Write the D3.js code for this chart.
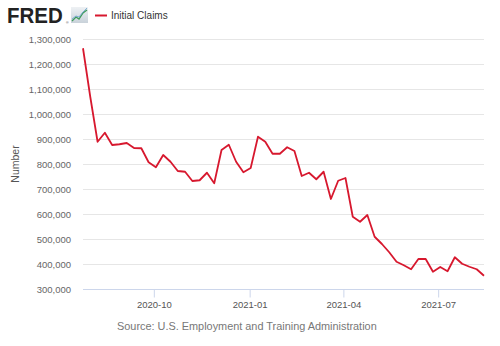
<!DOCTYPE html>
<html>
<head>
<meta charset="utf-8">
<script src="https://cdn.jsdelivr.net/npm/d3@7"></script>
<style>
  html, body { margin: 0; padding: 0; background: #fff; }
  svg { display: block; font-family: "Liberation Sans", Arial, sans-serif; }
</style>
</head>
<body>
<svg id="chart" width="500" height="346"></svg>
<script>
// Weekly initial claims, week ending dates starting 2020-07-25
const startDate = "2020-07-25";
const claims = [
  1263000, 1068000, 889000, 925000, 876000, 879000, 884000, 864000,
  863000, 807000, 787000, 836000, 809000, 772000, 769000, 732000,
  735000, 765000, 723000, 856000, 877000, 809000, 767000, 784000,
  909000, 889000, 841000, 841000, 867000, 852000, 752000, 765000,
  739000, 769000, 660000, 733000, 744000, 589000, 569000, 596000,
  509000, 480000, 447000, 409000, 395000, 379000, 420000, 420000,
  369000, 388000, 371000, 427000, 401000, 389000, 379000, 353000
];
const yTicks = [300000, 400000, 500000, 600000, 700000, 800000, 900000,
                1000000, 1100000, 1200000, 1300000];
const xTickLabels = ["2020-10", "2021-01", "2021-04", "2021-07"];
const seriesName = "Initial Claims";
const yTitle = "Number";
const sourceText = "Source: U.S. Employment and Training Administration";

const parse = d3.timeParse("%Y-%m-%d");
const t0 = parse(startDate);
const data = claims.map((v, i) => ({ date: d3.timeDay.offset(t0, i * 7), value: v }));

const svg = d3.select("#chart");
const plot = { left: 83, right: 484, top: 39, bottom: 289 };
const lineColor = "#d7182e";

const x = d3.scaleTime()
  .domain(d3.extent(data, d => d.date))
  .range([plot.left, plot.right]);
const y = d3.scaleLinear()
  .domain([300000, 1300000])
  .range([plot.bottom, plot.top]);

// gridlines
svg.append("g")
  .selectAll("line")
  .data(yTicks)
  .join("line")
  .attr("x1", plot.left).attr("x2", plot.right)
  .attr("y1", d => y(d) + 0.5).attr("y2", d => y(d) + 0.5)
  .attr("stroke", "#e6e6e6").attr("stroke-width", 1);

// y axis labels
const yAxis = d3.axisLeft(y)
  .tickValues(yTicks)
  .tickSize(0)
  .tickPadding(0)
  .tickFormat(d3.format(","));
const gy = svg.append("g")
  .attr("transform", `translate(${plot.left - 12},0)`)
  .call(yAxis);
gy.select(".domain").remove();
gy.selectAll("text")
  .attr("fill", "#666")
  .attr("font-size", 9.5)
  .attr("font-family", "'Liberation Sans', Arial, sans-serif");

// x axis
const xTickDates = xTickLabels.map(s => parse(s + "-01"));
const xAxis = d3.axisBottom(x)
  .tickValues(xTickDates)
  .tickSize(8)
  .tickPadding(4)
  .tickFormat(d3.timeFormat("%Y-%m"));
const gx = svg.append("g")
  .attr("transform", `translate(0,${plot.bottom + 0.5})`)
  .call(xAxis);
gx.select(".domain")
  .attr("d", `M${plot.left},0H${plot.right}`)
  .attr("stroke", "#ccd6eb");
gx.selectAll(".tick line").attr("stroke", "#ccd6eb");
gx.selectAll("text")
  .attr("fill", "#555")
  .attr("font-size", 9.5)
  .attr("font-family", "'Liberation Sans', Arial, sans-serif");

// axis title
svg.append("text")
  .attr("transform", `translate(19,${(plot.top + plot.bottom) / 2}) rotate(-90)`)
  .attr("text-anchor", "middle")
  .attr("fill", "#555")
  .attr("font-size", 10.5)
  .text(yTitle);

// series line
const line = d3.line()
  .x(d => x(d.date))
  .y(d => y(d.value));
svg.append("path")
  .datum(data)
  .attr("d", line)
  .attr("fill", "none")
  .attr("stroke", lineColor)
  .attr("stroke-width", 1.8)
  .attr("stroke-linejoin", "round");

// header: FRED wordmark (stretched slightly taller) with small chart icon
svg.append("text")
  .attr("transform", "translate(7,23) scale(1,1.12)")
  .attr("font-size", 20.5)
  .attr("font-weight", "bold")
  .attr("fill", "#222")
  .text("FRED");
svg.append("text")
  .attr("x", 66).attr("y", 24)
  .attr("font-size", 3.5)
  .attr("fill", "#444")
  .text("®");
const icon = svg.append("g").attr("transform", "translate(71,7)");
const grad = svg.append("defs").append("linearGradient")
  .attr("id", "iconbg").attr("x1", 0).attr("y1", 0).attr("x2", 0).attr("y2", 1);
grad.append("stop").attr("offset", "0%").attr("stop-color", "#eef1f4");
grad.append("stop").attr("offset", "100%").attr("stop-color", "#c9d2da");
icon.append("rect").attr("width", 17).attr("height", 16).attr("fill", "url(#iconbg)");
icon.append("path")
  .attr("d", "M1,14 L5,10 L8,12 L12,6 L16,3")
  .attr("fill", "none").attr("stroke", "#3f9b5a").attr("stroke-width", 1.3);
icon.append("path")
  .attr("d", "M1,12 L5,9 L8,10 L12,5 L16,1")
  .attr("fill", "none").attr("stroke", "#6aa0d0").attr("stroke-width", 0.8);

// legend
svg.append("line")
  .attr("x1", 95).attr("x2", 107)
  .attr("y1", 15.5).attr("y2", 15.5)
  .attr("stroke", lineColor).attr("stroke-width", 2);
svg.append("text")
  .attr("x", 111).attr("y", 19)
  .attr("font-size", 10)
  .attr("fill", "#333")
  .text(seriesName);

// source note
svg.append("text")
  .attr("x", 117).attr("y", 330)
  .attr("font-size", 10.9)
  .attr("fill", "#777")
  .text(sourceText);
</script>
</body>
</html>
